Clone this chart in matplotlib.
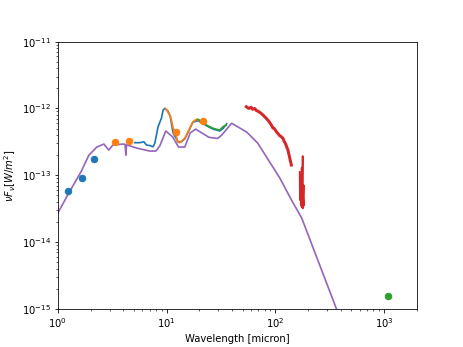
import matplotlib
matplotlib.use('Agg')
import matplotlib.pyplot as plt
import numpy as np

# photometry (micron, W/m^2)
nir_wave = [1.23, 1.65, 2.15]
nir_flux = [5.9e-14, 9.0e-14, 1.77e-13]
wise_wave = [3.36, 4.52, 12.1, 21.8]
wise_flux = [3.11e-13, 3.28e-13, 4.39e-13, 6.5e-13]
mm_wave = [1086.]
mm_flux = [1.54e-15]

# IRS-like spectra
sl_wave = [5.1, 5.67, 6.17, 6.54, 7.01, 7.52, 7.79, 8.35, 8.98, 9.29, 9.62,
           10.3, 10.8, 11.5, 12.8, 13.7, 14.7, 16.3, 17.4, 19.4, 23.3, 26.8,
           30.8, 33.1, 35.7]
sl_flux = [3.07e-13, 3.07e-13, 3.17e-13, 2.83e-13, 2.78e-13, 2.67e-13, 3.0e-13,
           5.32e-13, 7.18e-13, 9.46e-13, 1.0e-12, 9.14e-13, 7.6e-13, 4.24e-13,
           3.17e-13, 3.17e-13, 3.5e-13, 4.9e-13, 6.2e-13, 6.6e-13, 5.5e-13,
           4.9e-13, 4.6e-13, 5.0e-13, 5.9e-13]
mid_wave = [9.8, 10.9, 11.5, 12.1, 12.6, 13.2, 14.7, 16.3, 17.5, 18.8, 20.2]
mid_flux = [1.0e-12, 7.5e-13, 5.04e-13, 4.3e-13, 3.17e-13, 3.07e-13, 3.57e-13,
            5.04e-13, 6.32e-13, 6.87e-13, 6.6e-13]
long_wave = [19.4, 21.5, 23.3, 25.0, 26.8, 28.5, 30.8, 33.1, 35.4]
long_flux = [6.87e-13, 6.25e-13, 5.64e-13, 5.3e-13, 5.04e-13, 4.9e-13,
             4.75e-13, 5.32e-13, 5.64e-13]

# far-IR spectrum (noisy)
fir_wave = [54.2, 57.0, 60.0, 62.0, 64.7, 67.0, 70.0, 73.0, 77.1, 80.0, 84.0,
            88.0, 92.1, 95.0, 98.0, 102.4, 106.0, 110.0, 113.0, 117.7, 121.0,
            125.0, 128.0, 130.9, 134.0, 137.0, 140.6]
fir_flux = [1.06e-12, 1.0e-12, 1.04e-12, 0.97e-12, 1.0e-12, 0.93e-12, 0.9e-12,
            0.86e-12, 7.96e-13, 7.5e-13, 6.9e-13, 6.3e-13, 5.64e-13, 5.1e-13,
            5.0e-13, 4.48e-13, 4.2e-13, 3.9e-13, 3.8e-13, 3.57e-13, 3.2e-13,
            2.9e-13, 2.6e-13, 2.38e-13, 2.0e-13, 1.7e-13, 1.42e-13]
fir2_wave = [167.6, 168.5, 171., 172., 175., 176., 178.6, 179.5, 182.5, 183.,
             180., 181.]
fir2_flux = [1.12e-13, 4.25e-14, 1.0e-13, 3.5e-14, 1.3e-13, 3.3e-14, 1.94e-13,
             3.2e-14, 7.1e-14, 3.5e-14, 5.06e-14, 3.8e-14]

# model SED
mod_wave = [1.0, 1.26, 1.63, 1.93, 2.28, 2.65, 2.94, 3.2, 3.96, 4.15, 4.22,
            4.28, 5.32, 7.01, 7.96, 8.66, 9.83, 11.4, 12.9, 14.7, 16.5, 18.5,
            24.5, 29.5, 32.2, 39.7, 54.6, 68.9, 110., 141., 175., 434.]
mod_flux = [2.72e-14, 5.4e-14, 1.12e-13, 2.0e-13, 2.64e-13, 2.93e-13, 2.38e-13,
            2.83e-13, 2.93e-13, 2.9e-13, 2.0e-13, 2.85e-13, 2.55e-13, 2.30e-13,
            2.30e-13, 2.74e-13, 4.59e-13, 3.73e-13, 2.64e-13, 2.64e-13,
            4.3e-13, 4.9e-13, 3.7e-13, 3.55e-13, 4.0e-13, 6.0e-13, 4.43e-13,
            3.03e-13, 9.1e-14, 4.25e-14, 2.29e-14, 4.8e-16]

fig, ax = plt.subplots(figsize=(463 / 72, 347 / 72), dpi=72)

ax.plot(sl_wave, sl_flux, color='C0', lw=1.7)
ax.plot(mid_wave, mid_flux, color='C1', lw=1.7)
ax.plot(long_wave, long_flux, color='C2', lw=1.7)
ax.plot(fir_wave, fir_flux, color='C3', lw=3)
ax.plot(fir2_wave, fir2_flux, color='C3', lw=1.7)
ax.plot(mod_wave, mod_flux, color='C4', lw=1.7)

ax.scatter(nir_wave, nir_flux, color='C0', s=42, zorder=3)
ax.scatter(wise_wave, wise_flux, color='C1', s=42, zorder=3)
ax.scatter(mm_wave, mm_flux, color='C2', s=42, zorder=3)

ax.set_xscale('log')
ax.set_yscale('log')
ax.set_xlim(1, 2000)
ax.set_ylim(1e-15, 1e-11)
ax.set_xlabel('Wavelength [micron]')
ax.set_ylabel(r'$\nu F_\nu [W/m^2]$')

fig.savefig('out.png', dpi=72)
